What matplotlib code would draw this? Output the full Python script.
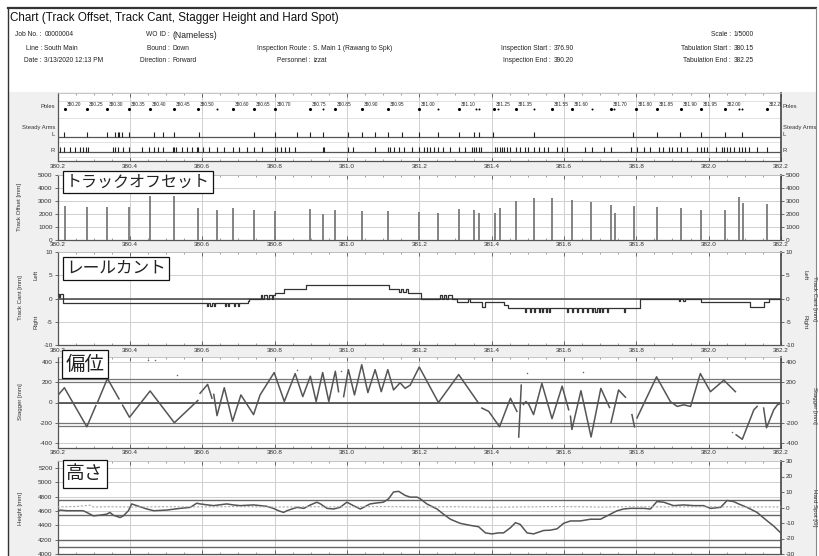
import numpy as np
import matplotlib
matplotlib.use("Agg")
import matplotlib.pyplot as plt
from matplotlib.patches import Rectangle
from matplotlib.lines import Line2D
from matplotlib.ticker import MultipleLocator

nan = np.nan

# ---------------- data ----------------
x_ticks = [380.2, 380.4, 380.6, 380.8, 381.0, 381.2, 381.4, 381.6, 381.8, 382.0, 382.2]
x_tick_labels = ["380.2", "380.4", "380.6", "380.8", "381.0", "381.2", "381.4", "381.6", "381.8", "382.0", "382.2"]

pole_km = [380.221, 380.281, 380.338, 380.399, 380.456, 380.523, 380.589, 380.640, 380.684, 380.742,
           380.800, 380.898, 380.933, 380.968, 381.041, 381.113, 381.200, 381.253, 381.309, 381.357,
           381.364, 381.408, 381.417, 381.467, 381.518, 381.567, 381.622, 381.678, 381.730, 381.737,
           381.798, 381.858, 381.924, 381.980, 382.045, 382.083, 382.093, 382.160]
pole_labels = ["380.20", "380.25", "380.30", "380.35", "380.40", "380.45", "380.50", "", "380.60", "380.65",
               "380.70", "380.75", "", "380.85", "380.90", "380.95", "381.00", "", "381.10", "",
               "", "381.25", "", "381.35", "", "381.55", "381.60", "", "381.70", "",
               "381.80", "381.85", "381.90", "381.95", "382.00", "", "", "382.20"]

arm_L_km = [380.219, 380.281, 380.338, 380.359, 380.366, 380.371, 380.377, 380.399, 380.467, 380.491,
            380.523, 380.590, 380.742, 380.800, 380.862, 380.899, 380.933, 381.004, 381.041, 381.078,
            381.113, 381.152, 381.198, 381.253, 381.309, 381.352, 381.364, 381.404, 381.516, 381.791,
            381.857, 381.922, 381.980, 382.046, 382.092]
arm_R_km = [380.207, 380.219, 380.235, 380.248, 380.262, 380.270, 380.279, 380.283, 380.353, 380.359,
            380.366, 380.382, 380.399, 380.433, 380.453, 380.467, 380.479, 380.491, 380.519, 380.523,
            380.528, 380.543, 380.557, 380.571, 380.585, 380.589, 380.601, 380.620, 380.640, 380.661,
            380.686, 380.703, 380.723, 380.742, 380.765, 380.800, 380.806, 380.817, 380.829, 380.841,
            380.857, 380.933, 380.937, 381.004, 381.016, 381.078, 381.113, 381.120, 381.129, 381.143,
            381.157, 381.180, 381.198, 381.212, 381.221, 381.230, 381.240, 381.253, 381.267, 381.286,
            381.309, 381.327, 381.345, 381.352, 381.357, 381.364, 381.370, 381.410, 381.416, 381.422,
            381.428, 381.435, 381.442, 381.452, 381.468, 381.479, 381.493, 381.502, 381.518, 381.530,
            381.544, 381.557, 381.580, 381.594, 381.608, 381.659, 381.678, 381.710, 381.730, 381.784,
            381.802, 381.821, 381.839, 381.862, 381.874, 381.890, 381.899, 381.913, 381.924, 381.941,
            381.968, 381.979, 381.986, 381.996, 382.019, 382.037, 382.043, 382.051, 382.058, 382.069,
            382.083, 382.092, 382.100, 382.111, 382.134, 382.160]

offset_km = [380.221, 380.281, 380.338, 380.399, 380.456, 380.523, 380.589, 380.640, 380.684, 380.742,
             380.800, 380.898, 380.933, 380.968, 381.041, 381.113, 381.200, 381.253, 381.309, 381.352,
             381.364, 381.410, 381.422, 381.468, 381.518, 381.567, 381.622, 381.676, 381.731, 381.740,
             381.793, 381.858, 381.924, 381.980, 382.045, 382.083, 382.094, 382.160]
offset_mm = [2580, 2560, 2570, 2560, 3420, 3400, 2480, 2270, 2470, 2330,
             2260, 2360, 2020, 2330, 2220, 2260, 2180, 2100, 2385, 2300,
             2050, 2050, 2490, 3025, 3250, 3200, 3075, 2920, 2670, 2100,
             2590, 2560, 2460, 2300, 2300, 3330, 2820, 2790]

cant_km = [380.200, 380.204, 380.207, 380.216, 380.612, 380.616, 380.622, 380.626, 380.632, 380.636,
           380.662, 380.665, 380.672, 380.675, 380.688, 380.691, 380.700, 380.703, 380.727, 380.730,
           380.762, 380.766, 380.772, 380.780, 380.785, 380.792, 380.797, 380.800, 380.825, 380.888,
           381.115, 381.145, 381.150, 381.156, 381.162, 381.170, 381.206, 381.258, 381.262, 381.268,
           381.275, 381.280, 381.290, 381.304, 381.336, 381.339, 381.373, 381.383, 381.433, 381.446,
           381.493, 381.496, 381.507, 381.510, 381.518, 381.521, 381.530, 381.533, 381.539, 381.542,
           381.549, 381.552, 381.558, 381.561, 381.608, 381.611, 381.622, 381.625, 381.636, 381.639,
           381.650, 381.653, 381.664, 381.667, 381.678, 381.681, 381.687, 381.690, 381.696, 381.699,
           381.705, 381.708, 381.719, 381.722, 381.765, 381.768, 381.811, 381.918, 381.922, 381.930,
           381.935, 381.980, 382.115, 382.153, 382.167, 382.200]
cant_mm = [1.0, 0.4, 1.0, -1.0, -1.7, -1.0, -1.7, -1.0, -1.7, -1.0,
           -1.7, -1.0, -1.7, -1.0, -1.7, -1.0, -1.7, -1.0, -0.5, 0.0,
           0.8, 0.0, 0.8, 0.0, 0.8, 0.0, 0.8, 1.2, 2.0, 3.0,
           2.0, 1.5, 2.0, 1.5, 2.0, 1.2, 0.0, 0.8, 0.0, 0.8,
           0.0, 0.8, 0.0, -0.8, 0.0, -0.8, -1.8, -0.8, -1.3, -2.0,
           -2.8, -2.0, -2.8, -2.0, -2.8, -2.0, -2.8, -2.0, -2.8, -2.0,
           -2.8, -2.0, -2.8, -2.0, -2.8, -2.0, -2.8, -2.0, -2.8, -2.0,
           -2.8, -2.0, -2.8, -2.0, -2.8, -2.0, -2.8, -2.0, -2.8, -2.0,
           -2.8, -2.0, -2.8, -2.0, -2.8, -2.0, 0.0, -0.6, 0.0, -0.6,
           0.0, -0.8, -1.8, -0.8, 0.0, 0.0]

stagger_km = [380.202, 380.219, 380.281, 380.306, 380.308, 380.310, 380.338, 380.370, 380.375, 380.380,
              380.399, 380.456, 380.523, 380.588, 380.591, 380.594, 380.615, 380.627, 380.630, 380.632,
              380.641, 380.661, 380.684, 380.707, 380.742, 380.760, 380.799, 380.827, 380.857, 380.878,
              380.899, 380.915, 380.933, 380.950, 380.968, 380.977, 380.984, 380.991, 381.004, 381.021,
              381.041, 381.058, 381.078, 381.095, 381.113, 381.129, 381.147, 381.161, 381.175, 381.200,
              381.253, 381.309, 381.364, 381.368, 381.373, 381.392, 381.422, 381.452, 381.470, 381.472,
              381.475, 381.482, 381.485, 381.488, 381.495, 381.503, 381.516, 381.539, 381.567, 381.595,
              381.613, 381.615, 381.618, 381.622, 381.647, 381.675, 381.702, 381.726, 381.728, 381.730,
              381.751, 381.770, 381.779, 381.788, 381.795, 381.798, 381.802, 381.856, 381.894, 381.913,
              381.931, 381.950, 381.977, 382.005, 382.042, 382.074, 382.075, 382.076, 382.093, 382.125,
              382.134, 382.143, 382.152, 382.160, 382.180, 382.190, 382.201]
stagger_mm = [75, 146, -240, -31, nan, -3, 237, 36, nan, -27,
              -146, 114, -200, 20, nan, 91, 179, 42, nan, 80,
              -130, 146, -185, 75, -120, 75, 296, 10, 286, 58,
              260, 10, 296, 10, 309, 107, nan, 58, 325, 75,
              374, 98, 325, 107, 325, 124, 195, 140, 172, 351,
              0, 276, -6, nan, -55, -88, -240, 42, -88, nan,
              -341, 172, nan, -20, 10, -20, -120, 189, -160, 162,
              -72, nan, -136, -267, 117, -341, 140, -49, nan, -200,
              124, 52, nan, -120, -240, nan, -153, 254, 10, -39,
              -23, -39, 286, 107, 221, 107, nan, -320, -364, -72,
              -39, nan, -55, -250, -72, -23, -6]
stagger_dot_km = [380.451, 380.469, 380.531, 380.862, 380.983, 381.497, 381.653, 382.065]
stagger_dot_mm = [416, 425, 270, 325, 309, 296, 302, -293]

height_km = [380.200, 380.207, 380.225, 380.271, 380.281, 380.299, 380.318, 380.336, 380.345, 380.354,
             380.373, 380.382, 380.396, 380.405, 380.419, 380.447, 380.466, 380.502, 380.539, 380.567,
             380.585, 380.594, 380.631, 380.668, 380.686, 380.705, 380.742, 380.778, 380.797, 380.811,
             380.825, 380.834, 380.848, 380.862, 380.881, 380.899, 380.917, 380.927, 380.945, 380.963,
             380.981, 381.000, 381.018, 381.037, 381.046, 381.064, 381.083, 381.101, 381.115, 381.129,
             381.143, 381.161, 381.175, 381.194, 381.203, 381.221, 381.249, 381.267, 381.286, 381.313,
             381.341, 381.364, 381.383, 381.401, 381.419, 381.433, 381.452, 381.466, 381.479, 381.498,
             381.516, 381.544, 381.562, 381.581, 381.599, 381.618, 381.645, 381.673, 381.701, 381.719,
             381.747, 381.765, 381.784, 381.821, 381.839, 381.857, 381.876, 381.903, 381.931, 381.959,
             381.986, 382.005, 382.033, 382.051, 382.069, 382.083, 382.106, 382.134, 382.162, 382.180,
             382.201]
height_mm = [4590, 4614, 4605, 4605, 4581, 4533, 4543, 4557, 4581, 4543,
             4510, 4533, 4605, 4700, 4676, 4629, 4605, 4614, 4638, 4652,
             4710, 4700, 4676, 4700, 4686, 4676, 4686, 4667, 4638, 4605,
             4581, 4605, 4629, 4652, 4638, 4686, 4724, 4700, 4638, 4629,
             4652, 4724, 4676, 4629, 4652, 4700, 4714, 4724, 4771, 4867,
             4876, 4819, 4795, 4795, 4771, 4700, 4629, 4557, 4486, 4429,
             4400, 4381, 4295, 4281, 4295, 4295, 4367, 4438, 4414, 4295,
             4281, 4329, 4333, 4352, 4429, 4462, 4462, 4486, 4486, 4533,
             4605, 4629, 4638, 4638, 4629, 4733, 4724, 4676, 4686, 4676,
             4676, 4638, 4652, 4748, 4733, 4700, 4652, 4581, 4462, 4390,
             4286]
height_limits = [4760, 4540, 4200, 4095]

hardspot_km = [380.20, 380.25, 380.29, 380.30, 380.35, 380.40, 380.50, 380.60, 380.70, 380.80,
               380.90, 381.00, 381.10, 381.20, 381.30, 381.40, 381.50, 381.60, 381.70, 381.80,
               381.90, 382.00, 382.10, 382.20]
hardspot_g = [0.4, 0.6, 1.5, 0.3, 0.5, 0.3, 0.5, 0.4, 0.6, 0.3,
              0.5, 0.4, 0.6, 0.3, 0.5, 0.2, 0.4, 0.6, 0.3, 0.5,
              0.4, 0.5, 0.3, 0.4]

# ---------------- figure ----------------
plt.rcParams["font.family"] = ["Liberation Sans", "DejaVu Sans", "Noto Sans CJK JP"]
plt.rcParams["axes.unicode_minus"] = False
W, H = 820, 556
fig = plt.figure(figsize=(W / 100, H / 100), dpi=100)
fig.patch.set_facecolor("white")

def fpos(x, y):
    return x / W, 1 - y / H

def add_ax(x0, y0, x1, y1):
    return fig.add_axes([x0 / W, 1 - y1 / H, (x1 - x0) / W, (y1 - y0) / H])

# grey background for chart area
fig.add_artist(Rectangle(fpos(8, 556), (808) / W, (556 - 92) / H, transform=fig.transFigure,
                         facecolor="#f0f0f0", edgecolor="none", zorder=0))
# outer frame
fig.add_artist(Line2D([8 / W, 816 / W], [1 - 8 / H, 1 - 8 / H], color="#333333", lw=1.6))
fig.add_artist(Line2D([8 / W, 8 / W], [1 - 8 / H, 0], color="#333333", lw=1.0))
fig.add_artist(Line2D([816 / W, 816 / W], [1 - 8 / H, 0], color="#888888", lw=0.8))

# header
x, y = fpos(10, 18)
fig.text(x, y, "Chart (Track Offset, Track Cant, Stagger Height and Hard Spot)",
         fontsize=8.4, va="center", ha="left", color="#111111")

def hdr(xc, yc, label, value, vsize=4.8):
    x1, y1 = fpos(xc - 1, yc)
    fig.text(x1, y1, label + " :", fontsize=4.8, ha="right", va="center", color="#222222")
    x2, y2 = fpos(xc + 1.5, yc)
    fig.text(x2, y2, value, fontsize=vsize, ha="left", va="center", color="#222222")

hdr(43, 35, "Job No.", "00000004")
hdr(43, 48, "Line", "South Main")
hdr(43, 61, "Date", "3/13/2020 12:13 PM")
hdr(171, 35, "WO ID", "(Nameless)", vsize=6.2)
hdr(171, 48, "Bound", "Down")
hdr(171, 61, "Direction", "Forward")
hdr(312, 48, "Inspection Route", "S. Main 1 (Rawang to Spk)")
hdr(312, 61, "Personnel", "izzat")
hdr(552, 48, "Inspection Start", "376.90")
hdr(552, 61, "Inspection End", "390.20")
hdr(732, 35, "Scale", "1/5000")
hdr(732, 48, "Tabulation Start", "380.15")
hdr(732, 61, "Tabulation End", "382.25")

X0, X1 = 57.5, 781
TICK_FS = 4.6
GRID_C = "#cfcfcf"
TXT_C = "#333333"

def style_x(ax, labels=True):
    ax.set_xlim(380.2, 382.2)
    ax.set_xticks(x_ticks)
    ax.set_xticklabels(x_tick_labels)
    ax.xaxis.set_minor_locator(MultipleLocator(0.05))
    ax.tick_params(axis="x", which="major", direction="in", length=3, width=0.6, top=True, bottom=True,
                   labelsize=TICK_FS, pad=1.8, labelcolor=TXT_C, color="#555555", labelbottom=labels)
    ax.tick_params(axis="x", which="minor", direction="in", length=1.6, width=0.5, top=True, bottom=True,
                   color="#777777")
    ax.grid(True, axis="x", which="major", color=GRID_C, lw=0.7)
    ax.set_axisbelow(True)
    ax.spines["top"].set_color("#bbbbbb")
    ax.spines["top"].set_linewidth(0.6)
    ax.spines["bottom"].set_color("#555555")
    ax.spines["bottom"].set_linewidth(0.9)
    ax.spines["left"].set_color("#555555")
    ax.spines["left"].set_linewidth(0.9)
    ax.spines["right"].set_color("#444444")
    ax.spines["right"].set_linewidth(1.2)

def style_y(ax, ticks, both=True):
    ax.set_yticks(ticks)
    ax.tick_params(axis="y", direction="out", length=2.5, width=0.6, labelsize=TICK_FS, pad=1,
                   labelcolor=TXT_C, color="#555555", left=True, right=both, labelright=both)
    ax.grid(True, axis="y", color=GRID_C, lw=0.7)

def jp_box(x, y, s, size):
    xx, yy = fpos(x, y)
    fig.text(xx, yy, s, family=["Noto Sans CJK JP"], fontsize=size, ha="left", va="center",
             color="#222222", zorder=10,
             bbox=dict(boxstyle="square,pad=0.18", facecolor="white", edgecolor="#111111", lw=0.9))

def side_text(x, y, s, rot, size=4.4, ha="center"):
    xx, yy = fpos(x, y)
    fig.text(xx, yy, s, fontsize=size, rotation=rot, ha=ha, va="center", color=TXT_C)

# ---------------- panel 1: poles / steady arms ----------------
ax1 = add_ax(X0, 93, X1, 161)
ax1.set_facecolor("white")
ax1.set_ylim(0, 68)
style_x(ax1)
ax1.set_yticks([])
for yl in [60, 43, 19, 4]:
    ax1.axhline(yl, color="#dddddd", lw=0.6, zorder=1)
row_pole, row_L, row_R = 52, 24.3, 9.3
big = [lab != "" for lab in pole_labels]
ax1.scatter([k for k, b in zip(pole_km, big) if b], [row_pole] * sum(big), s=5, color="black", zorder=3,
            linewidths=0)
ax1.scatter([k for k, b in zip(pole_km, big) if not b], [row_pole] * (len(big) - sum(big)), s=2,
            color="black", zorder=3, linewidths=0)
for k, lab in zip(pole_km, pole_labels):
    if lab:
        ax1.text(k + 0.005, row_pole + 4.2, lab, fontsize=3.4, ha="left", va="center", color="#222222",
                 clip_on=True)
ax1.axhline(row_L, color="#555555", lw=0.9, zorder=2)
ax1.axhline(row_R, color="#555555", lw=0.9, zorder=2)
ax1.vlines(arm_L_km, row_L, row_L + 4.5, color="#222222", lw=0.8, zorder=3)
ax1.vlines(arm_R_km, row_R, row_R + 4.5, color="#222222", lw=0.8, zorder=3)
for lab, yy in [("Poles", 107), ("Steady Arms", 127), ("L", 135), ("R", 150)]:
    side_text(55, yy, lab, 0, size=4.2, ha="right")
    side_text(783, yy, lab, 0, size=4.2, ha="left")

# ---------------- panel 2: track offset ----------------
ax2 = add_ax(X0, 175, X1, 240)
ax2.set_facecolor("white")
ax2.set_ylim(0, 5000)
style_x(ax2)
style_y(ax2, [0, 1000, 2000, 3000, 4000, 5000])
ax2.vlines(offset_km, 0, offset_mm, color="#7a7a7a", lw=1.3, zorder=3)
side_text(20, 207, "Track Offset [mm]", 90)
jp_box(66, 182, "トラックオフセット", 11.5)

# ---------------- panel 3: track cant ----------------
ax3 = add_ax(X0, 252, X1, 345)
ax3.set_facecolor("white")
ax3.set_ylim(-10, 10)
style_x(ax3)
style_y(ax3, [-10, -5, 0, 5, 10])
ax3.axhline(0, color="#444444", lw=1.1, zorder=2)
ax3.step(cant_km, cant_mm, where="post", color="#333333", lw=0.9, zorder=3)
side_text(21, 298, "Track Cant [mm]", 90)
side_text(36, 275, "Left", 90)
side_text(36, 322, "Right", 90)
side_text(805, 275, "Left", -90)
side_text(815, 298, "Track Cant [mm]", -90)
side_text(805, 322, "Right", -90)
jp_box(66, 268, "レールカント", 12)

# ---------------- panel 4: stagger ----------------
ax4 = add_ax(X0, 357, X1, 448)
ax4.set_facecolor("white")
ax4.set_ylim(-450, 450)
style_x(ax4)
style_y(ax4, [-400, -200, 0, 200, 400])
for lv in [230, 200, -200, -235]:
    ax4.axhline(lv, color="#777777", lw=0.9, zorder=2)
ax4.axhline(0, color="#444444", lw=1.2, zorder=2)
ax4.plot(stagger_km, stagger_mm, color="#555555", lw=1.1, zorder=3)
ax4.scatter(stagger_dot_km, stagger_dot_mm, s=1.2, color="#666666", zorder=3, linewidths=0)
side_text(21, 402, "Stagger [mm]", 90)
side_text(815, 405, "Stagger [mm]", -90)
jp_box(66, 364, "偏位", 14)

# ---------------- panel 5: height / hard spot ----------------
ax5 = add_ax(X0, 461, X1, 554)
ax5.set_facecolor("white")
ax5.set_ylim(4000, 5300)
style_x(ax5, labels=False)
style_y(ax5, [4000, 4200, 4400, 4600, 4800, 5000, 5200], both=False)
ax5.tick_params(axis="y", right=False)
for lv in height_limits:
    ax5.axhline(lv, color="#666666", lw=1.0, zorder=2)
ax5.plot(height_km, height_mm, color="#555555", lw=1.1, zorder=4)
ax5b = ax5.twinx()
ax5b.set_ylim(-30, 30)
ax5b.set_yticks([-30, -20, -10, 0, 10, 20, 30])
ax5b.tick_params(axis="y", direction="out", length=2.5, width=0.6, labelsize=TICK_FS, pad=1,
                 labelcolor=TXT_C, color="#555555")
for sp in ax5b.spines.values():
    sp.set_visible(False)
ax5b.plot(hardspot_km, hardspot_g, color="#aaaaaa", lw=0.8, ls=(0, (2, 1.5)), zorder=3)
side_text(21, 508, "Height [mm]", 90)
side_text(815, 508, "Hard Spot [G]", -90)
jp_box(66, 474, "高さ", 13.5)

fig.savefig("out.png", dpi=100, facecolor=fig.get_facecolor())
